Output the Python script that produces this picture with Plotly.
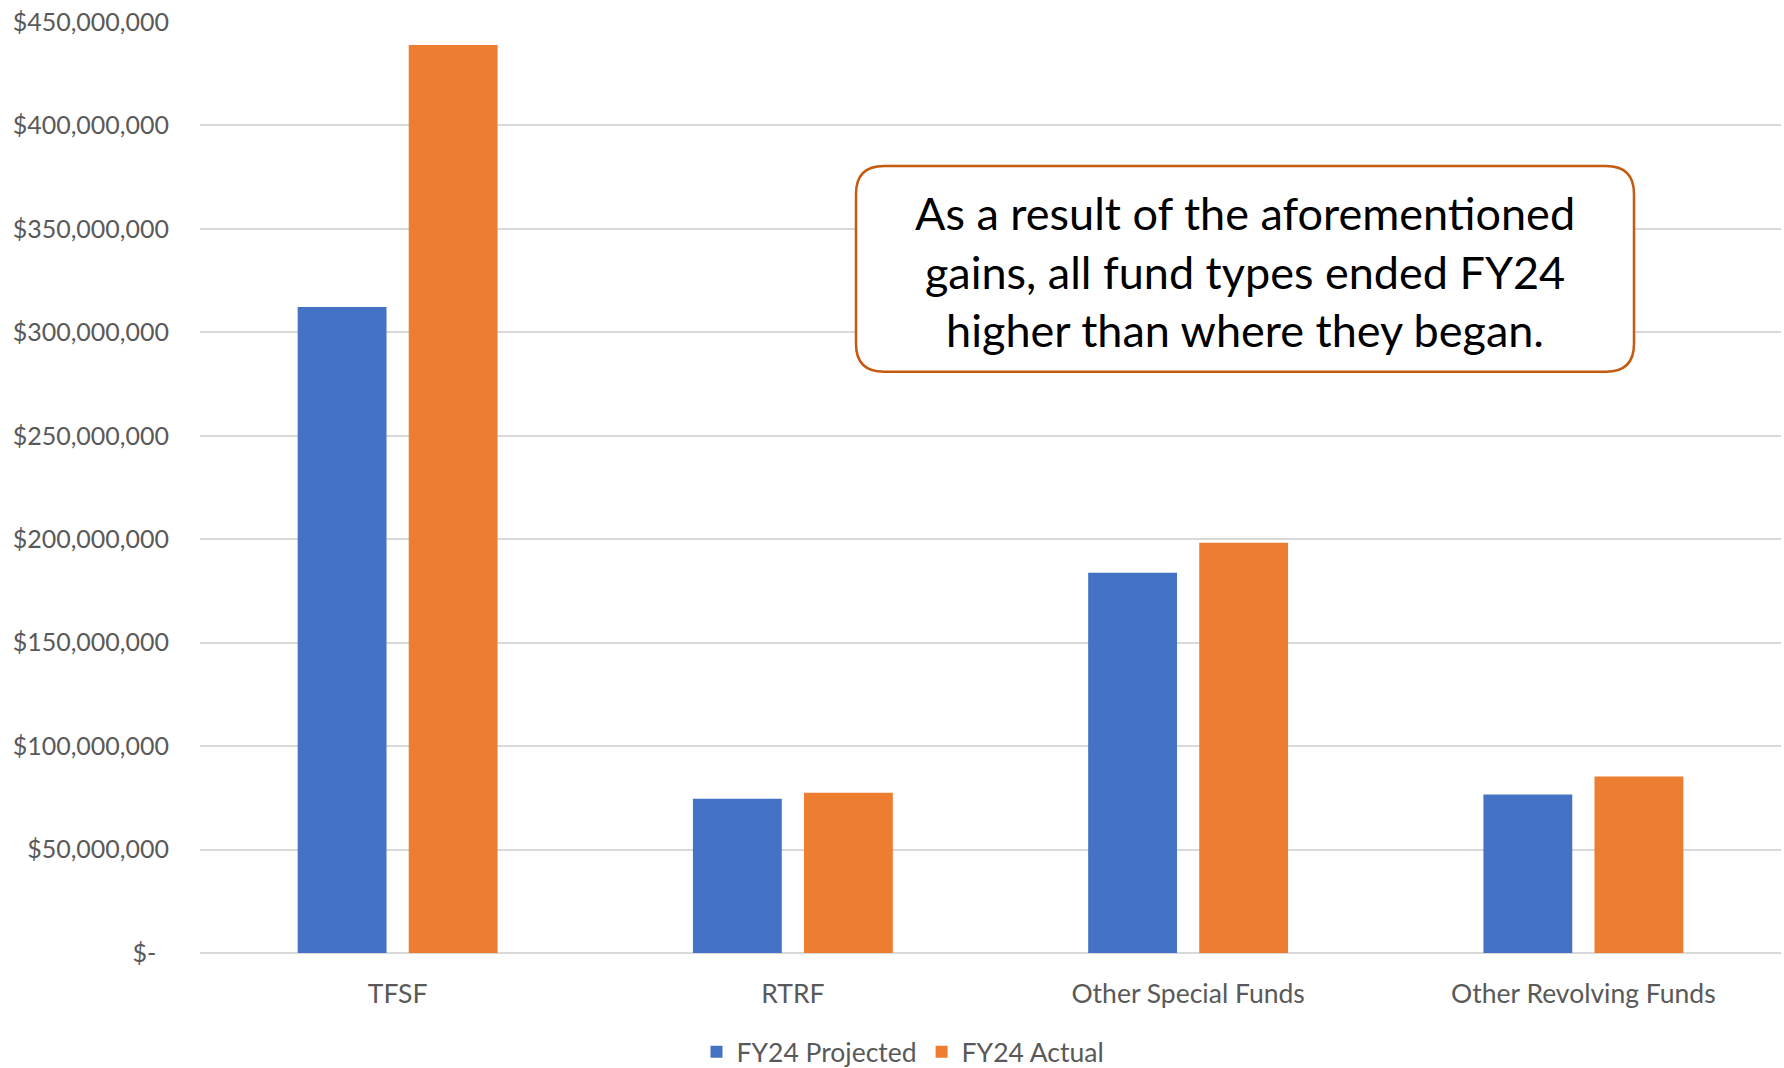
import plotly.graph_objects as go

# Fund balances at the end of FY24
categories = ["TFSF", "RTRF", "Other Special Funds", "Other Revolving Funds"]
fy24_projected = [312_300_000, 74_600_000, 183_800_000, 76_600_000]
fy24_actual = [438_900_000, 77_500_000, 198_300_000, 85_300_000]

# Y axis ticks
tick_values = list(range(0, 450_000_001, 50_000_000))
tick_labels = ["$-\u00a0\u00a0" if v == 0 else f"${v:,.0f}" for v in tick_values]

callout = "As a result of the aforementioned<br>gains, all fund types ended FY24<br>higher than where they began."

W, H = 1784, 1068
L, R, T, B = 200, 3, 22, 114.5
plot_w = W - L - R
plot_h = H - T - B

BLUE = "#4472C4"
ORANGE = "#ED7D31"
TEXT_GREY = "#595959"
GRID = "#D9D9D9"
FONT = "Lato, Calibri, Carlito, sans-serif"


def px_to_paper(px, py):
    return (px - L) / plot_w, (H - B - py) / plot_h


def rounded_box(x0, y0, x1, y1, r):
    # rounded rectangle path in paper coordinates, built from pixel corners
    pts = [
        ("M", [(x0 + r, y0)]),
        ("L", [(x1 - r, y0)]),
        ("Q", [(x1, y0), (x1, y0 + r)]),
        ("L", [(x1, y1 - r)]),
        ("Q", [(x1, y1), (x1 - r, y1)]),
        ("L", [(x0 + r, y1)]),
        ("Q", [(x0, y1), (x0, y1 - r)]),
        ("L", [(x0, y0 + r)]),
        ("Q", [(x0, y0), (x0 + r, y0)]),
    ]
    parts = []
    for cmd, coords in pts:
        s = " ".join(f"{px_to_paper(x, y)[0]:.5f},{px_to_paper(x, y)[1]:.5f}" for x, y in coords)
        parts.append(f"{cmd} {s}")
    return " ".join(parts) + " Z"


fig = go.Figure()
fig.add_trace(go.Bar(name="FY24 Projected", x=categories, y=fy24_projected,
                     marker=dict(color=BLUE, line=dict(width=0))))
fig.add_trace(go.Bar(name="FY24 Actual", x=categories, y=fy24_actual,
                     marker=dict(color=ORANGE, line=dict(width=0))))

box_x0, box_y0, box_x1, box_y1 = 856, 166, 1634, 372
fig.add_shape(type="path", xref="paper", yref="paper",
              path=rounded_box(box_x0, box_y0, box_x1, box_y1, 28),
              fillcolor="white", line=dict(color="#C55A11", width=2.5), layer="above")

cx, cy = px_to_paper((box_x0 + box_x1) / 2, 272)
fig.add_annotation(x=cx, y=cy, xref="paper", yref="paper", text=callout,
                   showarrow=False, xanchor="center", yanchor="middle",
                   font=dict(family=FONT, size=45, color="black"))

fig.update_layout(
    width=W, height=H,
    margin=dict(l=L, r=R, t=T, b=B, pad=0, autoexpand=False),
    paper_bgcolor="white", plot_bgcolor="white",
    barmode="group", bargap=0.438, bargroupgap=0.2,
    font=dict(family=FONT, size=25, color=TEXT_GREY),
    showlegend=True,
    legend=dict(orientation="h", xref="container", yref="container",
                x=903 / W, y=1 - 1052 / H, xanchor="center", yanchor="middle",
                font=dict(family=FONT, size=26.5, color=TEXT_GREY), traceorder="normal"),
    xaxis=dict(showgrid=False, showline=False, ticks="", ticklabelstandoff=22,
               tickfont=dict(family=FONT, size=26.5, color=TEXT_GREY)),
    yaxis=dict(range=[0, 450_000_000], tickvals=tick_values, ticktext=tick_labels,
               showgrid=True, gridcolor=GRID, gridwidth=1.5,
               zeroline=True, zerolinecolor=GRID, zerolinewidth=1.5,
               showline=False, ticks="", ticklabelstandoff=30,
               tickfont=dict(family=FONT, size=25, color=TEXT_GREY)),
)

fig.write_html("out.html")
